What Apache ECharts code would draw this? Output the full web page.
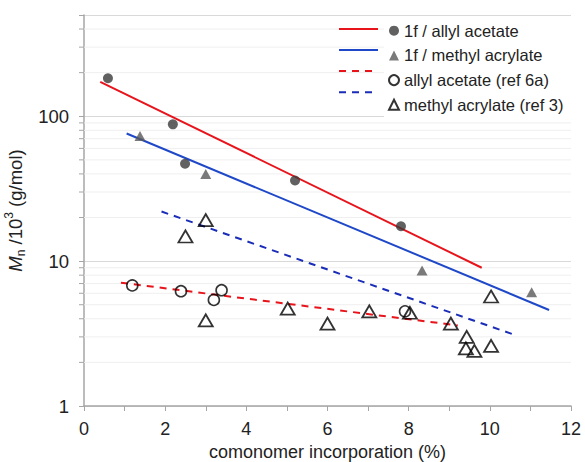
<!DOCTYPE html>
<html>
<head>
<meta charset="utf-8">
<script src="https://cdn.jsdelivr.net/npm/echarts@6/dist/echarts.min.js"></script>
<style>
  html, body { margin: 0; padding: 0; background: #fff; }
  #grafico { width: 585px; height: 462px; }
</style>
</head>
<body>
<div id="grafico"></div>
<script>
// datos
const allylX = [0.59, 2.19, 2.49, 5.2, 7.81];
const allylY = [183, 88, 47, 36, 17.4];

const acrylX = [1.38, 3.0, 8.33, 11.03];
const acrylY = [73, 40, 8.6, 6.1];

const allylRefX = [1.19, 2.39, 3.2, 3.39, 7.91];
const allylRefY = [6.8, 6.2, 5.4, 6.3, 4.5];

const acrylRefX = [3.0, 2.5, 3.0, 5.02, 6.0, 7.03, 8.03, 9.04, 9.43, 9.41, 9.62, 10.03, 10.03];
const acrylRefY = [19.2, 14.8, 3.9, 4.7, 3.7, 4.5, 4.4, 3.7, 3.0, 2.5, 2.4, 2.6, 5.7];

// lineas de tendencia (extremos)
const fitAllylX = [0.4, 9.8];
const fitAllylY = [173, 9.0];
const fitAcrylX = [1.05, 11.46];
const fitAcrylY = [76, 4.6];
const fitAllylRefX = [0.91, 9.21];
const fitAllylRefY = [7.1, 3.6];
const fitAcrylRefX = [1.91, 10.68];
const fitAcrylRefY = [22, 3.05];

const yMajor = [1, 10, 100];
const yMinor = [2, 3, 4, 5, 6, 7, 8, 9, 20, 30, 40, 50, 60, 70, 80, 90, 200, 300, 400];

const nombres = [
  "1f / allyl acetate",
  "1f / methyl acrylate",
  "allyl acetate (ref 6a)",
  "methyl acrylate (ref 3)",
];
const nombresFit = nombres.map((n) => "fit " + n);

const zip = (xs, ys) => xs.map((x, i) => [x, ys[i]]);

const fuente = 'Arial, "Liberation Sans", sans-serif';
const grisEje = "#a6a6a6";

const contenedor = document.getElementById("grafico");
const myChart = echarts.init(contenedor, null, { renderer: "svg" });

const lineaFit = (name, xs, ys, color, type) => ({
  name: name,
  type: "line",
  data: zip(xs, ys),
  showSymbol: false,
  symbol: "none",
  silent: true,
  z: 3,
  lineStyle: { color: color, width: 2, type: type },
  itemStyle: { color: color },
});

var option = {
  animation: false,
  textStyle: { fontFamily: fuente },
  grid: { left: 84, right: 14, top: 15, bottom: 56, containLabel: false, outerBoundsMode: "none" },
  legend: [
    {
      // muestras de las lineas
      data: nombresFit,
      orient: "vertical",
      left: 338,
      top: 21.7,
      itemWidth: 39,
      itemHeight: 18,
      itemGap: 6.7,
      padding: 0,
      z: 6,
      formatter: () => "",
      selectedMode: false,
      itemStyle: { opacity: 0 },
      textStyle: { fontSize: 16, lineHeight: 18 },
    },
    {
      data: nombres,
      orient: "vertical",
      left: 384,
      top: 17.7,
      itemWidth: 10,
      itemHeight: 10,
      itemGap: 6.7,
      padding: [4, 8, 4, 4],
      z: 5,
      backgroundColor: "#fff",
      selectedMode: false,
      textStyle: { fontSize: 16.5, lineHeight: 18, color: "#222" },
    },
  ],
  xAxis: {
    type: "value",
    min: 0,
    max: 12,
    interval: 2,
    name: "comonomer incorporation (%)",
    nameLocation: "middle",
    nameGap: 34,
    nameTextStyle: { fontSize: 18, color: "#222" },
    axisLine: { show: true, lineStyle: { color: grisEje, width: 1.5 } },
    axisTick: { show: true, length: 5, lineStyle: { color: grisEje } },
    minorTick: { show: true, splitNumber: 2, length: 5, lineStyle: { color: grisEje } },
    axisLabel: { fontSize: 18, color: "#222", margin: 14 },
    splitLine: { show: false },
  },
  yAxis: {
    type: "log",
    logBase: 10,
    min: 1,
    max: 500,
    name: "{m|M}{sub|n}{t| /10}{sup|3}{t| (g/mol)}",
    nameLocation: "middle",
    nameRotate: 90,
    nameGap: 52,
    nameTextStyle: {
      color: "#222",
      rich: {
        m: { fontSize: 18.5, fontStyle: "italic", color: "#222", lineHeight: 24, verticalAlign: "middle" },
        t: { fontSize: 18.5, color: "#222", lineHeight: 24, verticalAlign: "middle" },
        sub: { fontSize: 12, color: "#222", lineHeight: 24, verticalAlign: "bottom" },
        sup: { fontSize: 12, color: "#222", lineHeight: 24, verticalAlign: "top" },
      },
    },
    axisLine: { show: true, lineStyle: { color: grisEje, width: 1.5 } },
    axisTick: { show: true, length: 5, lineStyle: { color: grisEje } },
    axisLabel: {
      fontSize: 18.5,
      color: "#222",
      margin: 15,
      formatter: (v) => (yMajor.includes(Math.round(v)) ? String(Math.round(v)) : ""),
    },
    splitLine: { show: true, lineStyle: { color: "#d9d9d9", width: 1 } },
  },
  series: [
    {
      // rejilla menor y ticks menores del eje log
      type: "custom",
      coordinateSystem: "cartesian2d",
      silent: true,
      clip: false,
      z: 1,
      data: yMinor.map((v) => [0, v]),
      renderItem: function (params, api) {
        const p = api.coord([0, api.value(1)]);
        const cs = params.coordSys;
        return {
          type: "group",
          children: [
            {
              type: "line",
              shape: { x1: cs.x, y1: p[1], x2: cs.x + cs.width, y2: p[1] },
              style: { stroke: "#efefef", lineWidth: 1 },
            },
            {
              type: "line",
              shape: { x1: p[0] - 5, y1: p[1], x2: p[0], y2: p[1] },
              style: { stroke: grisEje, lineWidth: 1 },
            },
          ],
        };
      },
    },
    lineaFit(nombresFit[0], fitAllylX, fitAllylY, "#e8141c", "solid"),
    lineaFit(nombresFit[1], fitAcrylX, fitAcrylY, "#1f48c8", "solid"),
    lineaFit(nombresFit[2], fitAllylRefX, fitAllylRefY, "#e8141c", [7, 6]),
    lineaFit(nombresFit[3], fitAcrylRefX, fitAcrylRefY, "#1a2db8", [7, 6]),
    {
      name: nombres[0],
      type: "scatter",
      data: zip(allylX, allylY),
      symbol: "circle",
      symbolSize: 10,
      z: 4,
      itemStyle: { color: "#3a3a3a" },
    },
    {
      name: nombres[1],
      type: "scatter",
      data: zip(acrylX, acrylY),
      symbol: "triangle",
      symbolSize: [11, 10],
      z: 4,
      itemStyle: { color: "#595959" },
    },
    {
      name: nombres[2],
      type: "scatter",
      data: zip(allylRefX, allylRefY),
      symbol: "circle",
      symbolSize: 11,
      z: 4,
      itemStyle: { color: "rgba(0,0,0,0)", borderColor: "#000", borderWidth: 1.6 },
    },
    {
      name: nombres[3],
      type: "scatter",
      data: zip(acrylRefX, acrylRefY),
      symbol: "triangle",
      symbolSize: [14, 12],
      z: 4,
      itemStyle: { color: "rgba(0,0,0,0)", borderColor: "#000", borderWidth: 1.8 },
    },
  ],
};

myChart.setOption(option);
</script>
</body>
</html>
